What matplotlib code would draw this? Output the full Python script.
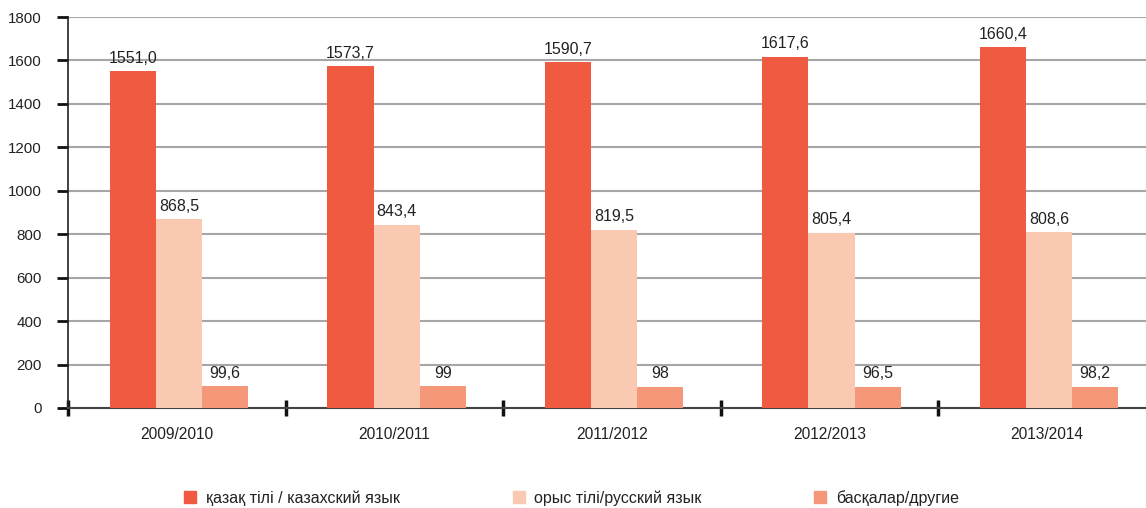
import matplotlib
matplotlib.use('Agg')
import matplotlib.pyplot as plt
from matplotlib.patches import Patch
import numpy as np

plt.rcParams['font.family'] = ['Liberation Sans', 'DejaVu Sans']

years = ['2009/2010', '2010/2011', '2011/2012', '2012/2013', '2013/2014']
kazakh = [1551.0, 1573.7, 1590.7, 1617.6, 1660.4]
russian = [868.5, 843.4, 819.5, 805.4, 808.6]
other = [99.6, 99, 98, 96.5, 98.2]
kazakh_labels = ['1551,0', '1573,7', '1590,7', '1617,6', '1660,4']
russian_labels = ['868,5', '843,4', '819,5', '805,4', '808,6']
other_labels = ['99,6', '99', '98', '96,5', '98,2']
series_names = ['қазақ тілі / казахский язык', 'орыс тілі/русский язык', 'басқалар/другие']
colors = ['#F05A40', '#FAC9B2', '#F5987A']

fig = plt.figure(figsize=(11.46, 5.08), dpi=100)
ax = fig.add_axes([0.0595, 0.1969, 0.9405, 0.7696])

x = np.arange(len(years))
w = 0.212
offset = 0.01
series = [(kazakh, kazakh_labels), (russian, russian_labels), (other, other_labels)]
for i, (vals, labs) in enumerate(series):
    pos = x + offset + (i - 1) * w
    bars = ax.bar(pos, vals, width=w, color=colors[i], zorder=3)
    for b, lab in zip(bars, labs):
        ax.annotate(lab, (b.get_x() + b.get_width() / 2, b.get_height()),
                    xytext=(0, 4), textcoords='offset points',
                    ha='center', va='bottom', fontsize=11.5, color='#222222')

ax.set_yticks(np.arange(0, 1801, 200))
ax.yaxis.grid(True, color='#a6a6a6', linewidth=1.5, zorder=0)
ax.tick_params(axis='y', length=8, width=2, color='#111111', labelsize=10.9,
               pad=11, labelcolor='#222222')

ax.set_xticks(np.arange(-0.5, len(years), 1.0))
ax.set_xticklabels([])
ax.set_xticks(x, minor=True)
ax.set_xticklabels(years, minor=True)
ax.tick_params(axis='x', which='major', direction='inout', length=12, width=2.5,
               color='#111111')
ax.tick_params(axis='x', which='minor', length=0, pad=14, labelsize=11.2,
               labelcolor='#222222')

# limits last, set_xticks would widen them otherwise
ax.set_ylim(0, 1800)
ax.set_xlim(-0.5, -0.5 + 1078 / 217.5)

for s in ['top', 'right']:
    ax.spines[s].set_visible(False)
ax.spines['left'].set_color('#222222')
ax.spines['left'].set_linewidth(1.2)
ax.spines['bottom'].set_color('#444444')
ax.spines['bottom'].set_linewidth(1.5)

legend_x = [0.155, 0.442, 0.705]
for name, c, lx in zip(series_names, colors, legend_x):
    fig.legend(handles=[Patch(color=c)], labels=[name], loc='center left',
               bbox_to_anchor=(lx, 0.02), frameon=False, fontsize=11.5,
               handlelength=0.75, handleheight=0.75, handletextpad=0.6,
               borderaxespad=0, labelcolor='#222222')

fig.savefig('out.png', dpi=100)
